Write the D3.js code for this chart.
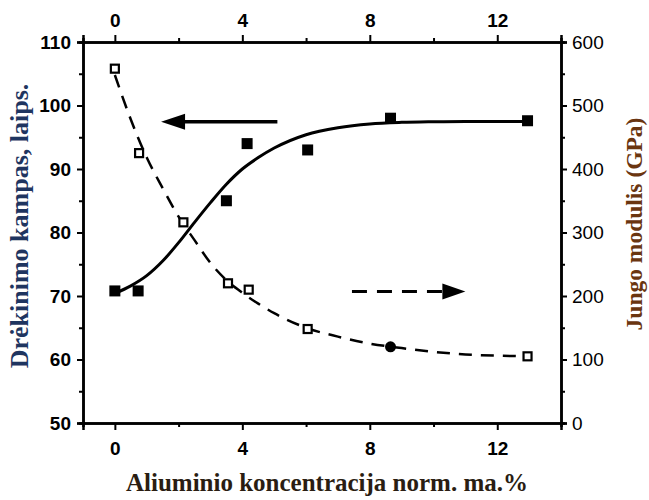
<!DOCTYPE html>
<html>
<head>
<meta charset="utf-8">
<script src="https://cdn.jsdelivr.net/npm/d3@7"></script>
<style>
body { margin: 0; background: #fff; }
</style>
</head>
<body>
<script>
var w = 649;
var h = 500;

// measured points, contact angle (left axis)
var angleX = [0, 0.73, 3.5, 4.15, 6.05, 8.65, 12.95];
var angleY = [70.8, 70.8, 85, 94, 93, 98, 97.6];
// fitted curve
var angleFitX = [0, 0.5, 1, 1.5, 2, 2.5, 3, 3.5, 4, 4.5, 5, 6, 7, 8, 9, 10, 11, 12, 13];
var angleFitY = [70.4, 71.6, 73.2, 75.5, 78.4, 81.6, 84.7, 87.6, 90.0, 91.8, 93.3, 95.4, 96.5, 97.1, 97.35, 97.45, 97.5, 97.5, 97.5];

// measured points, Young modulus (right axis)
var modX = [0, 0.76, 2.15, 3.55, 4.2, 6.05, 12.95];
var modY = [558, 425, 316, 220, 210, 148, 105];
var modDotX = [8.65];
var modDotY = [120];
var modFitX = [0, 0.5, 1, 1.5, 2, 2.5, 3, 3.5, 4, 4.5, 5, 6, 7, 8, 9, 10, 11, 12, 13];
var modFitY = [548, 478, 418, 370, 325, 288, 252, 225, 205, 188, 173, 150, 136, 125, 118, 112, 108, 106, 105];

var xTicks = [0, 4, 8, 12];
var xMinor = [2, 6, 10];
var leftTicks = [50, 60, 70, 80, 90, 100, 110];
var leftMinor = [55, 65, 75, 85, 95, 105];
var rightTicks = [0, 100, 200, 300, 400, 500, 600];
var rightMinor = [50, 150, 250, 350, 450, 550];

var margin = {left: 83, right: 88, top: 42, bottom: 77};

var x = d3.scaleLinear().domain([-1, 14]).range([margin.left, w - margin.right]);
var yL = d3.scaleLinear().domain([50, 110]).range([h - margin.bottom, margin.top]);
var yR = d3.scaleLinear().domain([0, 600]).range([h - margin.bottom, margin.top]);

var svg = d3.select("body").append("svg").attr("width", w).attr("height", h);

function styleAxis(g, bold) {
    g.select(".domain").attr("stroke", "#000").attr("stroke-width", 2.5);
    g.selectAll(".tick line").attr("stroke", "#000").attr("stroke-width", 2);
    g.selectAll(".tick text")
        .attr("fill", "#000")
        .style("font-family", "'Liberation Sans', Arial, sans-serif")
        .style("font-size", "19px")
        .style("font-weight", bold ? "bold" : "normal");
}

function minor(axisFn, scale, vals) {
    return axisFn(scale).tickValues(vals).tickSize(4).tickFormat("");
}

var bottom = h - margin.bottom;
var right = w - margin.right;

svg.append("g").attr("transform", "translate(0," + bottom + ")")
    .call(minor(d3.axisBottom, x, xMinor)).call(styleAxis);
svg.append("g").attr("transform", "translate(0," + bottom + ")")
    .call(d3.axisBottom(x).tickValues(xTicks).tickSize(7).tickPadding(12).tickFormat(d3.format("d")))
    .call(styleAxis, true);

svg.append("g").attr("transform", "translate(0," + margin.top + ")")
    .call(minor(d3.axisTop, x, xMinor)).call(styleAxis);
svg.append("g").attr("transform", "translate(0," + margin.top + ")")
    .call(d3.axisTop(x).tickValues(xTicks).tickSize(7).tickPadding(8).tickFormat(d3.format("d")))
    .call(styleAxis, true);

svg.append("g").attr("transform", "translate(" + margin.left + ",0)")
    .call(minor(d3.axisLeft, yL, leftMinor)).call(styleAxis);
svg.append("g").attr("transform", "translate(" + margin.left + ",0)")
    .call(d3.axisLeft(yL).tickValues(leftTicks).tickSize(6).tickPadding(6))
    .call(styleAxis, true);

svg.append("g").attr("transform", "translate(" + right + ",0)")
    .call(minor(d3.axisRight, yR, rightMinor)).call(styleAxis);
svg.append("g").attr("transform", "translate(" + right + ",0)")
    .call(d3.axisRight(yR).tickValues(rightTicks).tickSize(6).tickPadding(5))
    .call(styleAxis, false);

// curves
var angleFit = angleFitX.map(function (d, i) { return [d, angleFitY[i]]; });
var modFit = modFitX.map(function (d, i) { return [d, modFitY[i]]; });

svg.append("path")
    .datum(angleFit)
    .attr("d", d3.line().curve(d3.curveMonotoneX)
        .x(function (d) { return x(d[0]); })
        .y(function (d) { return yL(d[1]); }))
    .attr("fill", "none").attr("stroke", "#000").attr("stroke-width", 3);

svg.append("path")
    .datum(modFit)
    .attr("d", d3.line().curve(d3.curveMonotoneX)
        .x(function (d) { return x(d[0]); })
        .y(function (d) { return yR(d[1]); }))
    .attr("fill", "none").attr("stroke", "#000").attr("stroke-width", 2.5)
    .attr("stroke-dasharray", "13,9");

// markers
svg.selectAll("rect.angle")
    .data(angleX)
    .enter()
    .append("rect")
    .attr("class", "angle")
    .attr("x", function (d) { return x(d) - 5.5; })
    .attr("y", function (d, i) { return yL(angleY[i]) - 5.5; })
    .attr("width", 11).attr("height", 11)
    .attr("fill", "#000");

svg.selectAll("rect.mod")
    .data(modX)
    .enter()
    .append("rect")
    .attr("class", "mod")
    .attr("x", function (d) { return x(d) - 4; })
    .attr("y", function (d, i) { return yR(modY[i]) - 4; })
    .attr("width", 8).attr("height", 8)
    .attr("fill", "#fff").attr("stroke", "#000").attr("stroke-width", 2.2);

svg.selectAll("circle.moddot")
    .data(modDotX)
    .enter()
    .append("circle")
    .attr("class", "moddot")
    .attr("cx", function (d) { return x(d); })
    .attr("cy", function (d, i) { return yR(modDotY[i]); })
    .attr("r", 5.5)
    .attr("fill", "#000");

// arrows pointing at each series' axis
var arrowL = {x0: 5.1, x1: 1.45, y: 97.45};
var arrowR = {x0: 7.44, x1: 11.0, y: 207};

svg.append("line")
    .attr("x1", x(arrowL.x0)).attr("x2", x(arrowL.x1) + 20)
    .attr("y1", yL(arrowL.y)).attr("y2", yL(arrowL.y))
    .attr("stroke", "#000").attr("stroke-width", 3.5);
svg.append("path")
    .attr("d", "M" + x(arrowL.x1) + "," + yL(arrowL.y) +
        "L" + (x(arrowL.x1) + 24) + "," + (yL(arrowL.y) - 8) +
        "L" + (x(arrowL.x1) + 24) + "," + (yL(arrowL.y) + 8) + "Z")
    .attr("fill", "#000");

svg.append("line")
    .attr("x1", x(arrowR.x0)).attr("x2", x(arrowR.x1) - 20)
    .attr("y1", yR(arrowR.y)).attr("y2", yR(arrowR.y))
    .attr("stroke", "#000").attr("stroke-width", 3)
    .attr("stroke-dasharray", "15,10");
svg.append("path")
    .attr("d", "M" + x(arrowR.x1) + "," + yR(arrowR.y) +
        "L" + (x(arrowR.x1) - 23) + "," + (yR(arrowR.y) - 8) +
        "L" + (x(arrowR.x1) - 23) + "," + (yR(arrowR.y) + 8) + "Z")
    .attr("fill", "#000");

// titles
var serif = "'Liberation Serif', 'Times New Roman', serif";

svg.append("text")
    .attr("transform", "translate(28,226) rotate(-90)")
    .attr("text-anchor", "middle")
    .style("font-family", serif).style("font-weight", "bold").style("font-size", "26px")
    .attr("fill", "#1f3560")
    .text("Drėkinimo kampas, laips.");

svg.append("text")
    .attr("transform", "translate(642,224) rotate(-90)")
    .attr("text-anchor", "middle")
    .style("font-family", serif).style("font-weight", "bold").style("font-size", "23.5px")
    .attr("fill", "#6a3510")
    .text("Jungo modulis (GPa)");

svg.append("text")
    .attr("x", 327).attr("y", 491)
    .attr("text-anchor", "middle")
    .style("font-family", serif).style("font-weight", "bold").style("font-size", "25px")
    .attr("fill", "#2a1d12")
    .text("Aliuminio koncentracija norm. ma.%");
</script>
</body>
</html>
